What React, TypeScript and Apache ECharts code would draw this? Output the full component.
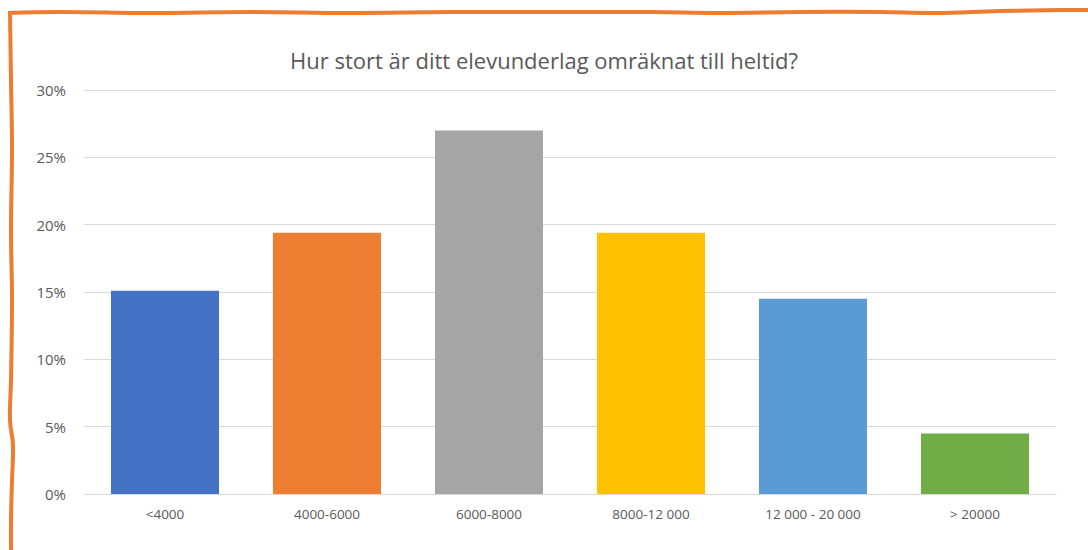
import React, { useEffect, useRef } from "react";
import * as echarts from "echarts";

const categories = ["<4000", "4000-6000", "6000-8000", "8000-12 000", "12 000 - 20 000", "> 20000"];
const values = [15.1, 19.4, 27.0, 19.4, 14.5, 4.5];
const colors = ["#4472C4", "#ED7D31", "#A5A5A5", "#FFC000", "#5B9BD5", "#70AD47"];
const yTicks = [0, 5, 10, 15, 20, 25, 30];
const titleText = "Hur stort är ditt elevunderlag omräknat till heltid?";

export default function App() {
  const ref = useRef<HTMLDivElement>(null);
  useEffect(() => {
    document.body.style.margin = "0";
    const chart = echarts.init(ref.current!, null, { renderer: "svg" });
    const font = "'Open Sans', 'Noto Sans', sans-serif";
    chart.setOption({
      animation: false,
      backgroundColor: "#ffffff",
      title: {
        text: titleText,
        left: "center",
        top: 44,
        textStyle: { fontFamily: font, fontSize: 22, fontWeight: "normal", color: "#595959" },
      },
      grid: { left: 84, right: 32, top: 90, bottom: 56 },
      xAxis: {
        type: "category",
        data: categories,
        axisTick: { show: false },
        axisLine: { lineStyle: { color: "#D9D9D9", width: 1 } },
        axisLabel: { color: "#595959", fontSize: 13.5, fontFamily: font, margin: 13 },
      },
      yAxis: {
        type: "value",
        min: yTicks[0],
        max: yTicks[yTicks.length - 1],
        interval: 5,
        axisLine: { show: false },
        axisTick: { show: false },
        splitLine: { lineStyle: { color: "#D9D9D9", width: 1 } },
        axisLabel: { color: "#595959", fontSize: 15, fontFamily: font, margin: 18, formatter: "{value}%" },
      },
      series: [
        {
          type: "bar",
          data: values.map((v, i) => ({ value: v, itemStyle: { color: colors[i] } })),
          barWidth: "66.7%",
        },
      ],
      graphic: [
        {
          type: "polyline",
          silent: true,
          shape: {
            smooth: 0.4,
            points: [
              [8, 13], [60, 12], [150, 13], [250, 12], [350, 13], [450, 12], [550, 12],
              [650, 12], [720, 13], [800, 12], [880, 12], [935, 13], [1000, 11], [1060, 10], [1088, 10],
            ],
          },
          style: { stroke: "#ED7D31", lineWidth: 4, fill: null },
        },
        {
          type: "polyline",
          silent: true,
          shape: {
            smooth: 0.4,
            points: [
              [10, 12], [11, 80], [12, 150], [11, 230], [12, 300], [11, 380], [10, 420], [13, 445],
              [12, 480], [11, 520], [11, 550],
            ],
          },
          style: { stroke: "#ED7D31", lineWidth: 4, fill: null },
        },
      ],
    });
    return () => chart.dispose();
  }, []);
  return <div ref={ref} style={{ width: 1088, height: 550 }} />;
}
